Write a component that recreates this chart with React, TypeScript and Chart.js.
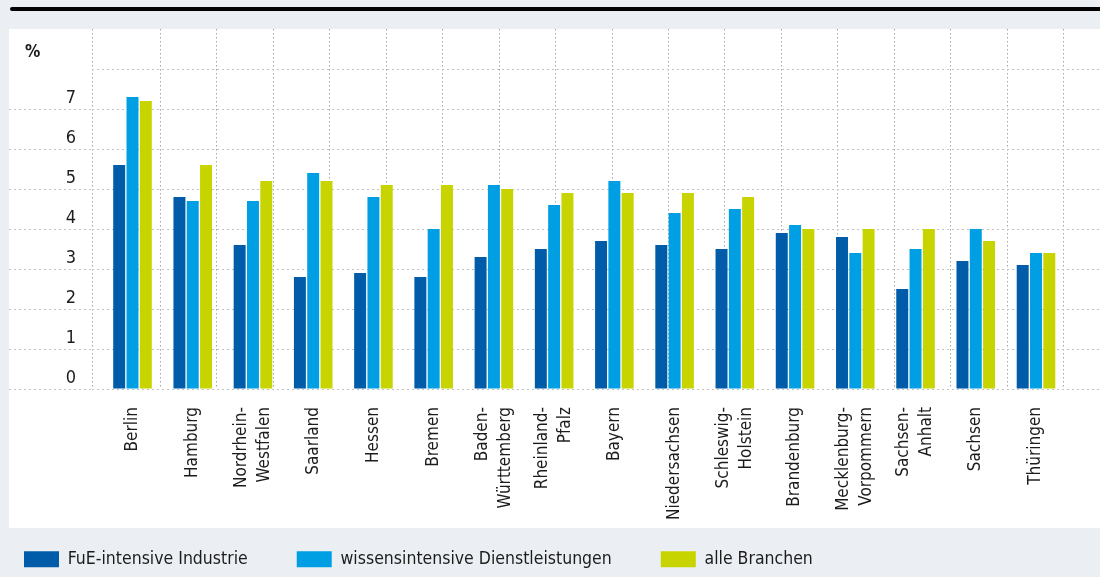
import React, { useEffect, useRef } from 'react';
import { Chart, registerables } from 'chart.js';

Chart.register(...registerables);

// ---------- data ----------
const categories: string[][] = [
  ['Berlin'],
  ['Hamburg'],
  ['Nordrhein-', 'Westfalen'],
  ['Saarland'],
  ['Hessen'],
  ['Bremen'],
  ['Baden-', 'Württemberg'],
  ['Rheinland-', 'Pfalz'],
  ['Bayern'],
  ['Niedersachsen'],
  ['Schleswig-', 'Holstein'],
  ['Brandenburg'],
  ['Mecklenburg-', 'Vorpommern'],
  ['Sachsen-', 'Anhalt'],
  ['Sachsen'],
  ['Thüringen'],
];
const seriesNames = ['FuE-intensive Industrie', 'wissensintensive Dienstleistungen', 'alle Branchen'];
const fueIndustrie = [5.6, 4.8, 3.6, 2.8, 2.9, 2.8, 3.3, 3.5, 3.7, 3.6, 3.5, 3.9, 3.8, 2.5, 3.2, 3.1];
const wissensDienst = [7.3, 4.7, 4.7, 5.4, 4.8, 4.0, 5.1, 4.6, 5.2, 4.4, 4.5, 4.1, 3.4, 3.5, 4.0, 3.4];
const alleBranchen = [7.2, 5.6, 5.2, 5.2, 5.1, 5.1, 5.0, 4.9, 4.9, 4.9, 4.8, 4.0, 4.0, 4.0, 3.7, 3.4];
const yTickLabels = ['0', '1', '2', '3', '4', '5', '6', '7', '', ''];
const unitLabel = '%';
const gridColumns = 17;

// ---------- styling ----------
const FONT = "'DejaVu Sans Condensed', 'DejaVu Sans', sans-serif";
const TEXT = '#1c1c1c';
const COLORS = ['#005ca8', '#009fe3', '#c8d400'];
const GRID_H = '#c2c2c2';
const GRID_V = '#a4a4a4';
const NONE = 'rgba(0,0,0,0)';
const X_MIN = -0.6724;
const X_MAX = 16.0625;
const GRID_MIN = -1.2095;
const GRID_MAX = 16.641;
const XL_FONT = 17;
const XL_LH = 1.35;
const LEGEND_TOP = 501.5;

const unitPlugin = {
  id: 'unitLabel',
  afterDraw(chart: any) {
    const y = chart.scales.y;
    const ctx = chart.ctx;
    ctx.save();
    ctx.font = `bold 17px ${FONT}`;
    ctx.fillStyle = TEXT;
    ctx.textAlign = 'left';
    ctx.textBaseline = 'middle';
    ctx.fillText(unitLabel, 50, y.getPixelForValue(8) - 16);
    ctx.restore();
  },
};

// the legend keeps a small layout box, but is drawn from a higher top so the
// rotated category labels below the axis are not clipped by it
const legendPlacePlugin = {
  id: 'legendPlace',
  afterLayout(chart: any) {
    const l = chart.legend;
    if (!l) return;
    l.top = LEGEND_TOP;
    l.bottom = chart.height;
    l.height = l.bottom - l.top;
  },
};

export default function App() {
  const canvasRef = useRef<HTMLCanvasElement | null>(null);

  useEffect(() => {
    if (!canvasRef.current) return;
    Chart.defaults.font.family = FONT;
    const series = [fueIndustrie, wissensDienst, alleBranchen];
    const chart = new Chart(canvasRef.current, {
      type: 'bar',
      data: {
        labels: categories.map((_, i) => i),
        datasets: series.map((d, k) => ({
          label: seriesNames[k],
          data: d,
          xAxisID: 'x',
          yAxisID: 'y',
          backgroundColor: COLORS[k],
          borderWidth: 0,
          categoryPercentage: 0.6625,
          barPercentage: 0.9,
        })),
      },
      options: {
        animation: false,
        responsive: true,
        maintainAspectRatio: false,
        events: [],
        layout: { padding: { top: 29, left: 0, right: 0, bottom: 0 } },
        plugins: {
          tooltip: { enabled: false },
          title: { display: false },
          legend: {
            position: 'bottom',
            align: 'start',
            maxHeight: 20,
            labels: {
              boxWidth: 35,
              boxHeight: 16,
              padding: 49,
              color: TEXT,
              font: { size: 17.5, family: FONT },
            },
          },
        },
        scales: {
          x: {
            type: 'linear',
            display: false,
            offset: false,
            min: X_MIN,
            max: X_MAX,
            grid: { display: false, offset: false },
            afterBuildTicks: (s: any) => {
              s.ticks = categories.map((_, i) => ({ value: i }));
            },
          },
          xg: {
            type: 'linear',
            position: 'bottom',
            offset: false,
            min: GRID_MIN,
            max: GRID_MAX,
            ticks: { display: false },
            grid: { display: true, offset: false, drawTicks: false, color: GRID_V, lineWidth: 1 },
            border: { display: false, dash: [1.5, 2.5] },
            afterBuildTicks: (s: any) => {
              const t = [{ value: s.min }];
              for (let k = 0; k < gridColumns; k++) t.push({ value: k });
              s.ticks = t;
            },
            afterFit: (s: any) => {
              s.height = 0;
            },
          },
          xl: {
            type: 'linear',
            position: 'bottom',
            offset: false,
            min: X_MIN,
            max: X_MAX,
            grid: { display: false, offset: false, drawTicks: false },
            border: { display: false },
            ticks: {
              autoSkip: false,
              minRotation: 90,
              maxRotation: 90,
              padding: 18,
              color: TEXT,
              font: { size: XL_FONT, lineHeight: XL_LH, family: FONT },
              callback: (_v: any, i: number) => categories[i],
            },
            afterBuildTicks: (s: any) => {
              const unitPx = s.width / (s.max - s.min) || 60;
              const half = (XL_FONT * XL_LH) / 2;
              s.ticks = categories.map((lines, i) => ({
                value: i - ((lines.length - 1) * half) / unitPx,
              }));
            },
            afterFit: (s: any) => {
              s.height = 169;
            },
          },
          y: {
            type: 'linear',
            min: 0,
            max: 9,
            ticks: {
              stepSize: 1,
              padding: -67,
              labelOffset: -10.5,
              color: TEXT,
              font: { size: 18, family: FONT },
              callback: (v: any) => yTickLabels[Math.round(Number(v))] ?? '',
            },
            grid: {
              display: true,
              drawTicks: true,
              tickLength: 83,
              tickBorderDash: [2, 3],
              lineWidth: 1,
              color: (c: any) => (c.tick && c.tick.value >= 9 ? NONE : GRID_H),
              tickColor: (c: any) => (c.tick && c.tick.value >= 8 ? NONE : GRID_H),
            },
            border: { display: false, dash: [2, 3] },
            afterFit: (s: any) => {
              s.width = 117;
            },
          },
        },
      } as any,
      plugins: [unitPlugin, legendPlacePlugin],
    });
    return () => chart.destroy();
  }, []);

  return (
    <div
      style={{
        position: 'fixed',
        left: 0,
        top: 0,
        width: 1100,
        height: 577,
        background: '#ebeff3',
        overflow: 'hidden',
      }}
    >
      <div
        style={{
          position: 'absolute',
          left: 10,
          top: 7,
          right: 0,
          height: 4,
          background: '#000',
          borderRadius: '2px 0 0 2px',
        }}
      />
      <div
        style={{
          position: 'absolute',
          left: 9,
          top: 29,
          width: 1091,
          height: 499,
          background: '#fff',
        }}
      />
      <div style={{ position: 'absolute', left: -25, top: 0, width: 1125, height: 578 }}>
        <canvas ref={canvasRef} />
      </div>
    </div>
  );
}
